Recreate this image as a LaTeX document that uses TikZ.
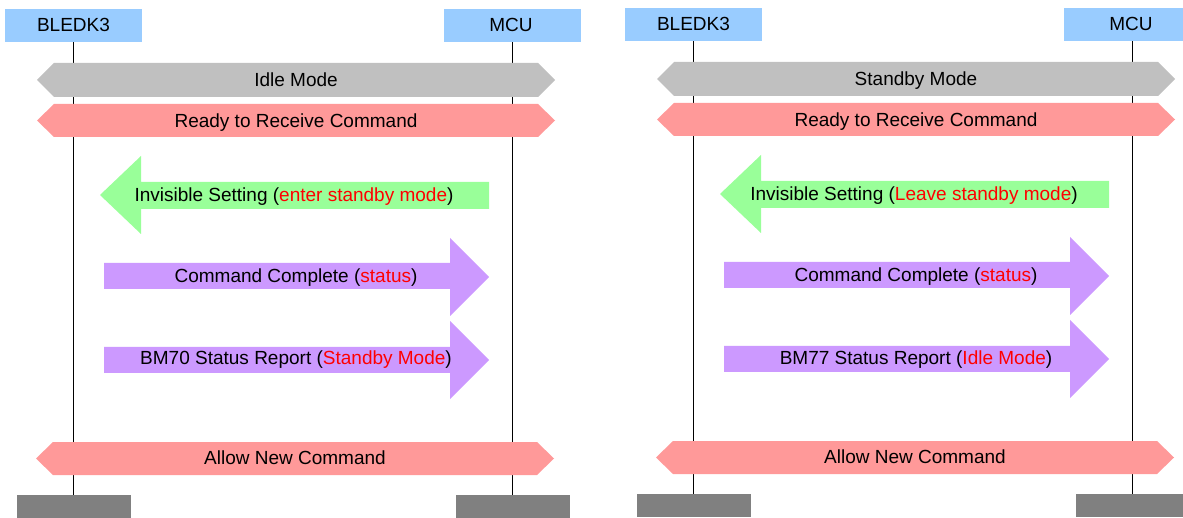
\documentclass[tikz,border=0pt]{standalone}
\usepackage{fontspec}
\setmainfont{Liberation Sans}
\definecolor{actorblue}{HTML}{99CCFF}
\definecolor{footgray}{HTML}{808080}
\definecolor{modegray}{HTML}{C0C0C0}
\definecolor{bandred}{HTML}{FF9999}
\definecolor{arrowgreen}{HTML}{99FF99}
\definecolor{arrowpurple}{HTML}{CC99FF}
\definecolor{textred}{HTML}{FF0000}
\tikzset{
  actorbox/.style={fill=actorblue, minimum width=137pt, minimum height=33pt, inner sep=0pt},
  footbox/.style={fill=footgray, minimum width=114pt, minimum height=23pt, inner sep=0pt},
  lbl/.style={inner sep=0pt, anchor=base, font=\fontsize{19}{22}\selectfont},
  lifeline/.style={draw=black, line width=0.9pt},
}
% hexagonal band: colour, x1, x2, top, bottom
\newcommand\hexband[5]{%
  \fill[#1] (#2,{(#4+#5)/2}) -- ({#2+17},#4) -- ({#3-17},#4) -- (#3,{(#4+#5)/2})
    -- ({#3-17},#5) -- ({#2+17},#5) -- cycle;}
% right arrow: colour, xstart, xheadbase, xtip, shafttop, shaftbottom, headtop, headbottom
\newcommand\rarrow[8]{%
  \fill[#1] (#2,#5) -- (#3,#5) -- (#3,#7) -- (#4,{(#7+#8)/2}) -- (#3,#8) -- (#3,#6) -- (#2,#6) -- cycle;}
% panel: prefix, mode, green red text, BM number, BM red text, xshift, yshift
\newcommand\seqpanel[7]{%
\begin{scope}[shift={(#6,#7)}]
  \node[actorbox] (#1-k3) at (73.5,25.5) {};
  \node[lbl] (#1-k3t) at (73.5,32) {BLEDK3};
  \node[actorbox] (#1-mcu) at (512,25.5) {};
  \node[lbl] (#1-mcut) at (511,32) {MCU};
  \node[footbox] (#1-k3f) at (73.5,506.5) {};
  \node[footbox] (#1-mcuf) at (512.5,506.5) {};
  \draw[lifeline] (#1-k3.south) -- (#1-k3.south |- #1-k3f.north);
  \draw[lifeline] (#1-mcu.south) -- (#1-mcu.south |- #1-mcuf.north);
  \hexband{modegray}{37}{555}{63}{97}
  \node[lbl] (#1-mode) at (296,87) {#2};
  \hexband{bandred}{37}{555}{104}{137}
  \node[lbl] (#1-ready) at (296,128) {Ready to Receive Command};
  \fill[arrowgreen] (100,195) -- (141,156) -- (141,182) -- (489,182) -- (489,209) -- (141,209) -- (141,234) -- cycle;
  \node[lbl] (#1-inv) at (294,202) {Invisible Setting (\textcolor{textred}{#3})};
  \rarrow{arrowpurple}{104}{450}{489}{263}{289}{238}{316}
  \node[lbl] (#1-cc) at (296,283) {Command Complete (\textcolor{textred}{status})};
  \rarrow{arrowpurple}{104}{450}{489}{347}{373}{321}{399}
  \node[lbl] (#1-bm) at (296,365) {#4 Status Report (\textcolor{textred}{#5})};
  \hexband{bandred}{36}{554}{442}{475}
  \node[lbl] (#1-allow) at (295,464) {Allow New Command};
\end{scope}}
\begin{document}
\begin{tikzpicture}[x=1pt,y=-1pt]
  \useasboundingbox (0,0) rectangle (1183,518);
  \clip (0,0) rectangle (1183,518);
  \fill[white] (0,0) rectangle (1183,518);
  \seqpanel{L}{Idle Mode}{enter standby mode}{BM70}{Standby Mode}{0}{0}
  \seqpanel{R}{Standby Mode}{Leave standby mode}{BM77}{Idle Mode}{620}{-1}
\end{tikzpicture}
\end{document}
